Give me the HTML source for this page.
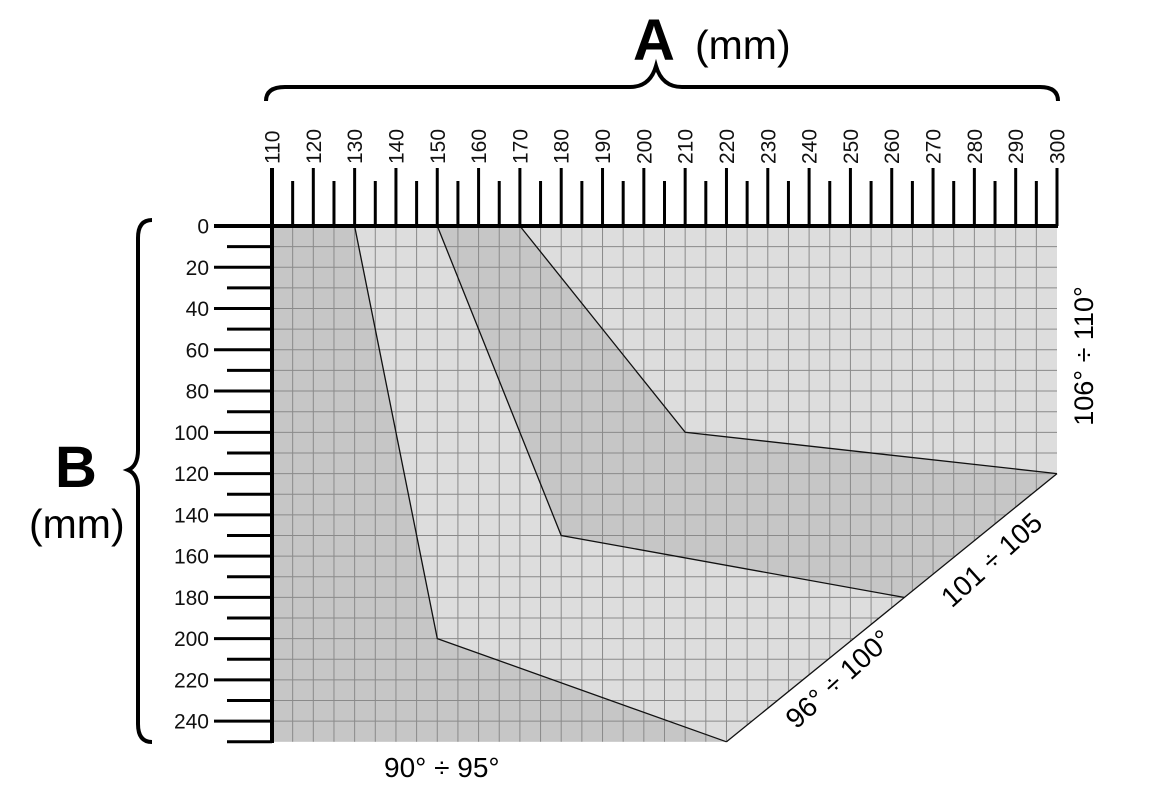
<!DOCTYPE html>
<html><head><meta charset="utf-8"><style>
html,body{margin:0;padding:0;background:#fff;}
svg{display:block;font-family:"Liberation Sans",sans-serif;}
</style></head><body>
<svg id="s" width="1170" height="801" viewBox="0 0 1170 801" xmlns="http://www.w3.org/2000/svg">
<defs><clipPath id="c"><polygon points="272,226 1057,226 1057,473.6 726.5,741.8 272,741.8"/></clipPath></defs>
<polygon points="272,226 1057,226 1057,473.6 726.5,741.8 272,741.8" fill="#dddddd"/>
<polygon points="272,226 354.6,226 437.3,638.6 726.5,741.8 272,741.8" fill="#c6c6c6"/>
<polygon points="437.3,226 519.9,226 685.2,432.3 1057,473.6 904.1,597.4 561.2,535.5" fill="#c6c6c6"/>
<g id="grid" clip-path="url(#c)" stroke="#8a8a8a" stroke-width="1"></g>
<g fill="none" stroke="#111" stroke-width="1.3">
<polyline points="354.6,226 437.3,638.6 726.5,741.8"/>
<polyline points="437.3,226 561.2,535.5 904.1,597.4"/>
<polyline points="519.9,226 685.2,432.3 1057,473.6"/>
<polyline points="1057,473.6 726.5,741.8"/>
</g>
<g id="ticks" stroke="#000"></g>
<line x1="214" y1="226" x2="1058" y2="226" stroke="#000" stroke-width="4"/>
<line x1="272" y1="168" x2="272" y2="743" stroke="#000" stroke-width="4"/>
<g id="lab" font-size="21" fill="#111"></g>
<path d="M266,101 Q266,87 285,87 L630,87 Q650,87 656,66 Q662,87 682,87 L1040,87 Q1058,87 1058,101" fill="none" stroke="#000" stroke-width="4"/>
<path d="M152,220 Q138,220 138,238 L138,450 Q138,466 128,470 Q138,474 138,490 L138,724 Q138,742 152,742" fill="none" stroke="#000" stroke-width="4"/>
<text x="633" y="60" font-size="58" font-weight="bold">A</text>
<text x="695" y="59" font-size="41">(mm)</text>
<text x="55" y="487" font-size="58" font-weight="bold">B</text>
<text x="29" y="538" font-size="41">(mm)</text>
<text x="384" y="777" font-size="28">90° ÷ 95°</text>
<text transform="translate(845,686) rotate(-42)" text-anchor="middle" font-size="28">96° ÷ 100°</text>
<text transform="translate(998,567) rotate(-42)" text-anchor="middle" font-size="28">101 ÷ 105</text>
<text transform="translate(1093,356) rotate(-90)" text-anchor="middle" font-size="27">106° ÷ 110°</text>
</svg>
<script>
var ns="http://www.w3.org/2000/svg";
function el(p,t,a,txt){var e=document.createElementNS(ns,t);for(var k in a)e.setAttribute(k,a[k]);if(txt!=null)e.textContent=txt;document.getElementById(p).appendChild(e);}
var dx=(1057-272)/38, dy=(741.8-226)/25;
for(var i=1;i<38;i++){var x=272+i*dx;el("grid","line",{x1:x,y1:226,x2:x,y2:742});}
for(var j=1;j<25;j++){var y=226+j*dy;el("grid","line",{x1:272,y1:y,x2:1057,y2:y});}
for(var i=0;i<=38;i++){var x=272+i*dx;var maj=i%2==0;el("ticks","line",{x1:x,y1:maj?168:181,x2:x,y2:226,"stroke-width":3});
 if(maj){el("lab","text",{transform:"translate("+(x+7.5)+",164) rotate(-90)"},String(110+i*5));}}
for(var j=0;j<=25;j++){var y=226+j*dy;var maj=j%2==0;el("ticks","line",{x1:maj?214:227,y1:y,x2:272,y2:y,"stroke-width":3});
 if(maj){el("lab","text",{x:209,y:y+7.5,"text-anchor":"end"},String(j*10));}}
</script>
</body></html>
